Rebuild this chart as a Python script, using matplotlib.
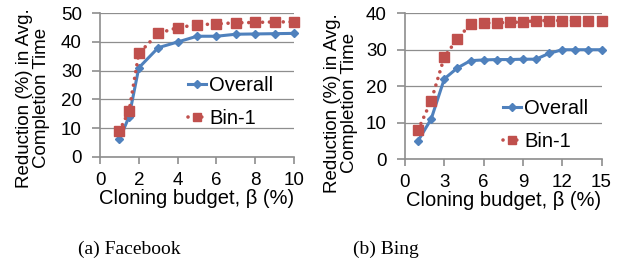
import matplotlib
matplotlib.use('Agg')
import matplotlib.pyplot as plt

# Facebook
fb_x = [1, 1.5, 2, 3, 4, 5, 6, 7, 8, 9, 10]
fb_overall = [6, 14, 31, 38, 40, 42, 42, 42.7, 42.8, 42.9, 43]
fb_bin1 = [9, 16, 36, 43, 45, 46, 46.3, 46.7, 46.8, 47, 47]

# Bing
bing_x = [1, 2, 3, 4, 5, 6, 7, 8, 9, 10, 11, 12, 13, 14, 15]
bing_overall = [5, 11, 22, 25, 27, 27.2, 27.3, 27.3, 27.4, 27.4, 29, 30, 30, 30, 30]
bing_bin1 = [8, 16, 28, 33, 37, 37.3, 37.4, 37.5, 37.6, 38, 38, 38, 38, 38, 38]

W, H = 626, 266
BLUE = '#4F81BD'
RED = '#C0504D'
GRAY = '#8E8E8E'

plt.rcParams['font.family'] = ['Liberation Sans', 'DejaVu Sans']

fig = plt.figure(figsize=(W / 100, H / 100), dpi=100)


# positions given in pixels (left, top, right, bottom)
def px_axes(l, t, r, b):
    return fig.add_axes([l / W, 1 - b / H, (r - l) / W, (b - t) / H])


def style_axes(ax, xmax, xticks, ymax, yticks):
    ax.set_xlim(0, xmax)
    ax.set_ylim(0, ymax)
    ax.set_xticks(xticks)
    ax.set_yticks(yticks)
    for s in ['top', 'right']:
        ax.spines[s].set_visible(False)
    for s in ['left', 'bottom']:
        ax.spines[s].set_color(GRAY)
        ax.spines[s].set_linewidth(1.2)
    ax.yaxis.grid(True, color=GRAY, linewidth=0.9)
    ax.set_axisbelow(True)
    ax.tick_params(axis='y', direction='out', length=6, width=1.2, color=GRAY, pad=7, labelsize=13.5)
    ax.tick_params(axis='x', direction='out', length=5, width=1.2, color=GRAY, pad=6, labelsize=13.5)
    ax.set_xlabel('Cloning budget, β (%)', fontsize=14.5, labelpad=0)
    for lab in ax.get_xticklabels() + ax.get_yticklabels():
        lab.set_clip_on(False)


def draw(ax, x, overall, bin1):
    ax.plot(x, overall, color=BLUE, lw=2.2, marker='D', markersize=4.5,
            label='Overall', clip_on=False, zorder=3)
    ax.plot(x, bin1, color=RED, lw=2.6, linestyle=(0, (0.01, 1.9)),
            dash_capstyle='round', marker='s', markersize=6.8,
            label='Bin-1', clip_on=False, zorder=4)


ax1 = px_axes(100, 13.3, 294, 156.7)
draw(ax1, fb_x, fb_overall, fb_bin1)
style_axes(ax1, 10, [0, 2, 4, 6, 8, 10], 50, [0, 10, 20, 30, 40, 50])
ax1.legend(loc='upper left', bbox_to_anchor=(0.454, 0.56), frameon=False,
           fontsize=14.5, handlelength=0.9, handletextpad=0.15, labelspacing=0.7,
           borderpad=0, borderaxespad=0, markerscale=0.85)

ax2 = px_axes(405, 13.3, 601.5, 159)
draw(ax2, bing_x, bing_overall, bing_bin1)
style_axes(ax2, 15, [0, 3, 6, 9, 12, 15], 40, [0, 10, 20, 30, 40])
ax2.legend(loc='upper left', bbox_to_anchor=(0.499, 0.41), frameon=False,
           fontsize=14.5, handlelength=0.9, handletextpad=0.15, labelspacing=0.7,
           borderpad=0, borderaxespad=0, markerscale=0.85)

ylab = 'Reduction (%) in Avg.\nCompletion Time'
fig.text(33 / W, 1 - 98 / H, ylab, rotation=90, ha='center', va='center',
         multialignment='center', fontsize=13.5, linespacing=1.05)
fig.text(341 / W, 1 - 103 / H, ylab, rotation=90, ha='center', va='center',
         multialignment='center', fontsize=13.5, linespacing=1.05)

fig.text(129 / W, 1 - 249 / H, '(a) Facebook', ha='center', va='center',
         fontsize=14, family=['Liberation Serif', 'DejaVu Serif'])
fig.text(386 / W, 1 - 249 / H, '(b) Bing', ha='center', va='center',
         fontsize=14, family=['Liberation Serif', 'DejaVu Serif'])

fig.savefig('out.png', dpi=100)
